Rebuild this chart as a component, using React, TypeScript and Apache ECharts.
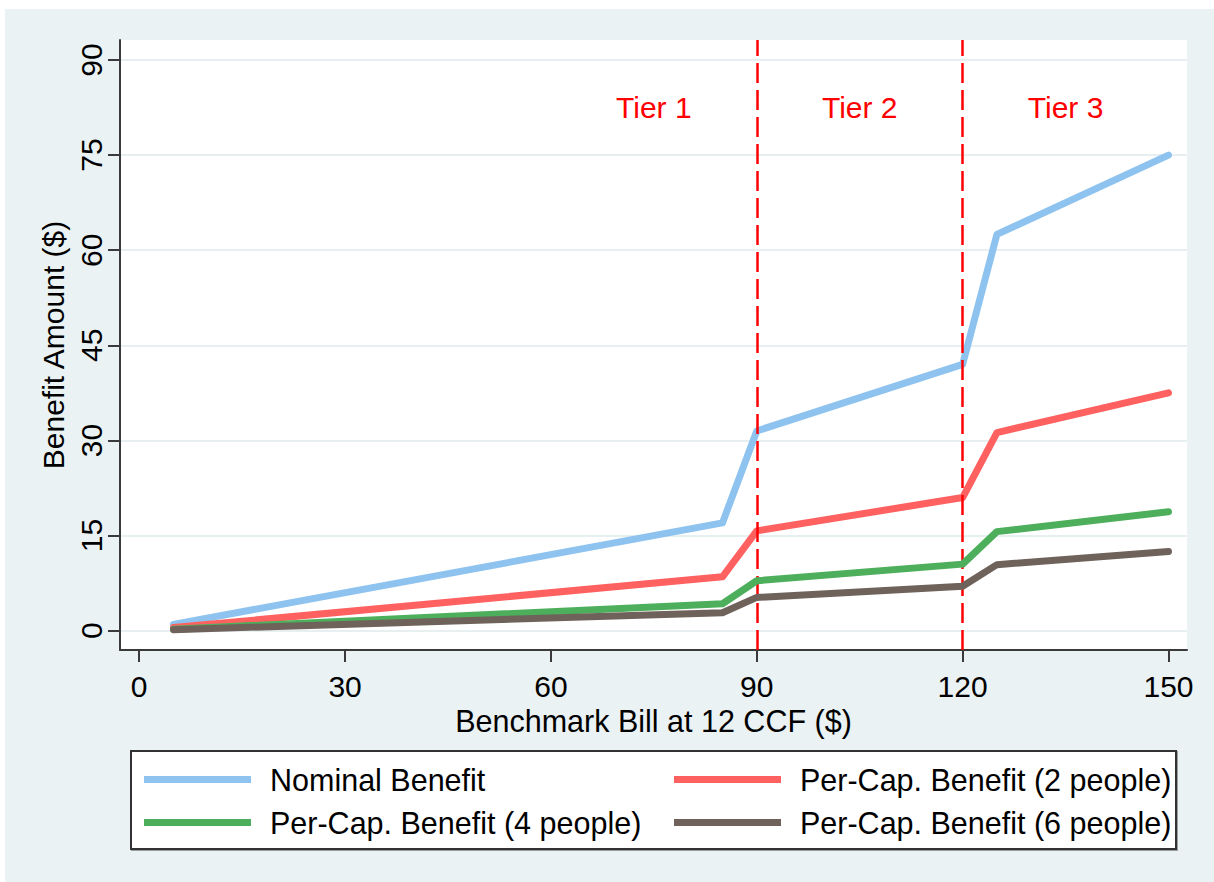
import React, { useEffect, useRef } from "react";
import * as echarts from "echarts";

// Data
const billValues = [5, 85, 90, 120, 125, 150];
const nominalBenefit = [1, 17, 31.5, 42, 62.5, 75];
const perCap2 = [0.5, 8.5, 15.75, 21, 31.25, 37.5];
const perCap4 = [0.25, 4.25, 7.88, 10.5, 15.63, 18.75];
const perCap6 = [0.17, 2.83, 5.25, 7, 10.42, 12.5];

const xTicks = [0, 30, 60, 90, 120, 150];
const yTicks = [0, 15, 30, 45, 60, 75, 90];

const tierBounds = [90, 120];
const tierLabels = ["Tier 1", "Tier 2", "Tier 3"];
const tierLabelX = [75, 105, 135];
const tierLabelY = [82.5, 82.5, 82.5];

const seriesNames = [
  "Nominal Benefit",
  "Per-Cap. Benefit (2 people)",
  "Per-Cap. Benefit (4 people)",
  "Per-Cap. Benefit (6 people)",
];
const seriesValues = [nominalBenefit, perCap2, perCap4, perCap6];
const seriesColors = ["#8ec3f0", "#ff6161", "#4daf5b", "#6e625b"];

const FONT = "'Liberation Sans', Arial, sans-serif";

export default function App() {
  const ref = useRef<HTMLDivElement>(null);

  useEffect(() => {
    document.body.style.margin = "0";
    const chart = echarts.init(ref.current!, null, { renderer: "svg" });

    const lineSeries = seriesNames.map((name, i) => ({
      name,
      type: "line",
      data: billValues.map((x, j) => [x, seriesValues[i][j]]),
      showSymbol: false,
      symbol: "none",
      lineStyle: { color: seriesColors[i], width: 7, cap: "round", join: "round" },
      itemStyle: { color: seriesColors[i] },
      z: 3 + i,
      markLine:
        i === 0
          ? {
              silent: true,
              symbol: "none",
              label: { show: false },
              lineStyle: { color: "#ff0000", width: 2.5, type: [20, 7] },
              data: tierBounds.map((v) => ({ xAxis: v })),
            }
          : undefined,
    }));

    const option = {
      animation: false,
      backgroundColor: "#ffffff",
      textStyle: { fontFamily: FONT },
      graphic: [
        {
          type: "rect",
          z: -10,
          shape: { x: 5, y: 9, width: 1209, height: 873 },
          style: { fill: "#eaf2f3" },
          silent: true,
        },
        {
          type: "rect",
          z: 1,
          shape: { x: 131, y: 751, width: 1045, height: 98 },
          style: {
            fill: "#ffffff",
            stroke: "#333333",
            lineWidth: 2,
            shadowColor: "rgba(0,0,0,0.35)",
            shadowOffsetX: 1,
            shadowOffsetY: 1,
            shadowBlur: 1,
          },
          silent: true,
        },
      ],
      grid: {
        left: 120,
        top: 40,
        width: 1067,
        height: 610,
        show: true,
        backgroundColor: "#ffffff",
        borderWidth: 0,
        containLabel: false,
      },
      xAxis: {
        type: "value",
        min: -2.8,
        max: 152.7,
        name: "Benchmark Bill at 12 CCF ($)",
        nameLocation: "middle",
        nameGap: 51,
        nameTextStyle: { fontSize: 30.5, color: "#000", fontFamily: FONT },
        axisLine: { show: true, onZero: false, lineStyle: { color: "#3a3a3a", width: 2 } },
        axisTick: {
          show: true,
          length: 12,
          inside: false,
          customValues: xTicks,
          lineStyle: { color: "#3a3a3a", width: 2 },
        },
        axisLabel: {
          customValues: xTicks,
          fontSize: 30,
          color: "#000",
          margin: 21,
          fontFamily: FONT,
        },
        splitLine: { show: false },
      },
      yAxis: {
        type: "value",
        min: -3.04,
        max: 93.15,
        name: "Benefit Amount ($)",
        nameLocation: "middle",
        nameGap: 47,
        nameRotate: 90,
        nameTextStyle: { fontSize: 30, color: "#000", fontFamily: FONT },
        axisLine: { show: true, onZero: false, lineStyle: { color: "#3a3a3a", width: 2 } },
        axisTick: {
          show: true,
          length: 12,
          inside: false,
          customValues: yTicks,
          lineStyle: { color: "#3a3a3a", width: 2 },
        },
        axisLabel: {
          customValues: yTicks,
          rotate: 90,
          fontSize: 30,
          color: "#000",
          margin: 14,
          fontFamily: FONT,
        },
        splitLine: { show: true, lineStyle: { color: "#e8eff1", width: 2 } },
      },
      legend: [
        {
          orient: "vertical",
          left: 144,
          top: 764,
          padding: 0,
          itemGap: 12,
          itemWidth: 107,
          itemHeight: 7,
          icon: "rect",
          data: [seriesNames[0], seriesNames[2]],
          textStyle: {
            fontSize: 30.5,
            color: "#000",
            fontFamily: FONT,
            lineHeight: 30,
            padding: [0, 0, 0, 14],
          },
          selectedMode: false,
        },
        {
          orient: "vertical",
          left: 674,
          top: 764,
          padding: 0,
          itemGap: 12,
          itemWidth: 107,
          itemHeight: 7,
          icon: "rect",
          data: [seriesNames[1], seriesNames[3]],
          textStyle: {
            fontSize: 30.5,
            color: "#000",
            fontFamily: FONT,
            lineHeight: 30,
            padding: [0, 0, 0, 14],
          },
          selectedMode: false,
        },
      ],
      series: [
        ...lineSeries,
        {
          name: "tiers",
          type: "scatter",
          symbolSize: 1,
          itemStyle: { color: "rgba(0,0,0,0)", opacity: 1 },
          silent: true,
          z: 10,
          data: tierLabels.map((t, i) => ({ value: [tierLabelX[i], tierLabelY[i]], name: t })),
          label: {
            show: true,
            position: "inside",
            formatter: (p: any) => p.name,
            fontSize: 30,
            color: "#ff0000",
            opacity: 1,
            fontFamily: FONT,
          },
        },
      ],
    };

    chart.setOption(option as any);
    return () => chart.dispose();
  }, []);

  return <div ref={ref} style={{ width: 1214, height: 882 }} />;
}
